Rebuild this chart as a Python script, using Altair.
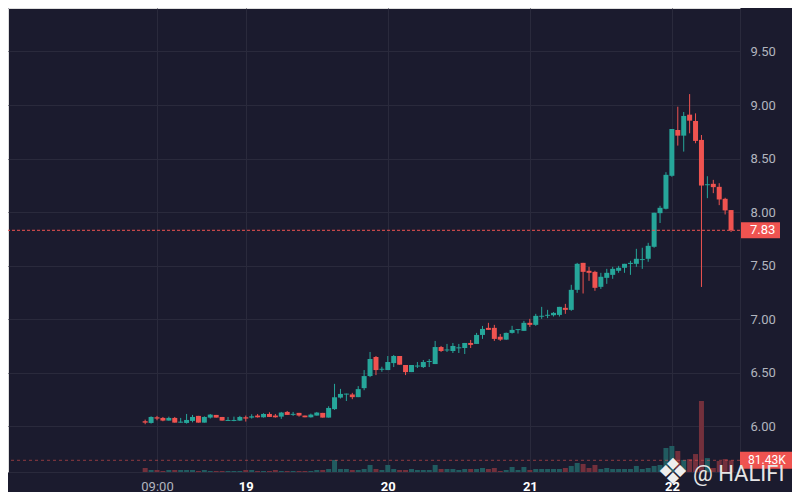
import altair as alt
import pandas as pd

# ---------------- data (hourly candles, hour 0 = 00:00 of day 18) ----------------
hours = list(range(7, 107))
opens = [6.047, 6.031, 6.084, 6.078, 6.053, 6.078, 6.034, 6.031, 6.050, 6.097,
         6.034, 6.081, 6.106, 6.087, 6.050, 6.050, 6.053, 6.084, 6.081, 6.100,
         6.084, 6.115, 6.100, 6.090, 6.134, 6.107, 6.125, 6.100, 6.084, 6.100,
         6.125, 6.081, 6.160, 6.268, 6.296, 6.297, 6.272, 6.356, 6.469, 6.647,
         6.528, 6.525, 6.590, 6.656, 6.572, 6.506, 6.558, 6.553, 6.600, 6.581,
         6.740, 6.708, 6.703, 6.728, 6.731, 6.778, 6.769, 6.853, 6.919, 6.919,
         6.836, 6.809, 6.872, 6.898, 6.891, 6.966, 6.947, 7.023, 7.032, 7.037,
         7.040, 7.106, 7.087, 7.274, 7.526, 7.452, 7.442, 7.302, 7.386, 7.414,
         7.452, 7.480, 7.516, 7.517, 7.552, 7.564, 7.676, 7.990, 8.031, 8.339,
         8.767, 8.714, 8.910, 8.851, 8.674, 8.251, 8.264, 8.236, 8.124, 8.019]
highs = [6.062, 6.093, 6.097, 6.087, 6.090, 6.087, 6.078, 6.115, 6.106, 6.097,
         6.093, 6.115, 6.106, 6.087, 6.087, 6.090, 6.097, 6.100, 6.112, 6.115,
         6.122, 6.131, 6.115, 6.134, 6.143, 6.134, 6.125, 6.100, 6.118, 6.134,
         6.125, 6.187, 6.396, 6.349, 6.305, 6.312, 6.375, 6.525, 6.694, 6.656,
         6.556, 6.656, 6.666, 6.656, 6.572, 6.572, 6.600, 6.619, 6.628, 6.797,
         6.750, 6.769, 6.778, 6.769, 6.778, 6.806, 6.872, 6.937, 6.966, 6.947,
         6.862, 6.875, 6.938, 6.907, 6.984, 7.003, 7.050, 7.115, 7.087, 7.066,
         7.115, 7.143, 7.321, 7.526, 7.526, 7.489, 7.452, 7.433, 7.470, 7.489,
         7.498, 7.517, 7.545, 7.657, 7.667, 7.713, 7.994, 8.059, 8.373, 8.776,
         8.984, 8.935, 9.102, 8.922, 8.720, 8.335, 8.301, 8.270, 8.134, 8.019]
lows = [6.019, 6.025, 6.056, 6.047, 6.053, 6.034, 6.034, 6.025, 6.037, 6.034,
        6.034, 6.072, 6.081, 6.053, 6.050, 6.047, 6.050, 6.044, 6.072, 6.081,
        6.081, 6.087, 6.081, 6.069, 6.106, 6.097, 6.090, 6.084, 6.081, 6.100,
        6.081, 6.081, 6.153, 6.259, 6.236, 6.253, 6.272, 6.337, 6.459, 6.478,
        6.509, 6.525, 6.553, 6.575, 6.478, 6.506, 6.544, 6.544, 6.553, 6.581,
        6.694, 6.694, 6.684, 6.684, 6.675, 6.731, 6.769, 6.816, 6.900, 6.797,
        6.797, 6.806, 6.866, 6.866, 6.891, 6.928, 6.938, 7.003, 7.010, 7.025,
        7.025, 7.050, 7.078, 7.246, 7.240, 7.358, 7.265, 7.283, 7.330, 7.377,
        7.433, 7.433, 7.414, 7.489, 7.470, 7.536, 7.667, 7.898, 8.025, 8.330,
        8.621, 8.565, 8.736, 8.643, 7.301, 8.130, 8.177, 8.065, 7.978, 7.814]
closes = [6.034, 6.087, 6.072, 6.053, 6.078, 6.034, 6.043, 6.059, 6.087, 6.034,
          6.087, 6.109, 6.081, 6.053, 6.059, 6.059, 6.087, 6.072, 6.093, 6.084,
          6.115, 6.087, 6.084, 6.128, 6.106, 6.116, 6.100, 6.084, 6.109, 6.128,
          6.081, 6.171, 6.271, 6.302, 6.305, 6.272, 6.347, 6.469, 6.628, 6.525,
          6.537, 6.600, 6.656, 6.575, 6.506, 6.572, 6.567, 6.600, 6.609, 6.740,
          6.703, 6.717, 6.750, 6.737, 6.778, 6.760, 6.853, 6.909, 6.900, 6.816,
          6.809, 6.872, 6.900, 6.907, 6.966, 6.947, 7.031, 7.032, 7.041, 7.059,
          7.115, 7.087, 7.274, 7.517, 7.442, 7.433, 7.293, 7.396, 7.433, 7.470,
          7.480, 7.517, 7.526, 7.564, 7.561, 7.685, 7.994, 8.040, 8.348, 8.776,
          8.714, 8.898, 8.854, 8.665, 8.248, 8.260, 8.233, 8.118, 8.016, 7.830]
volumes = [28, 14, 14, 7, 14, 14, 14, 14, 14, 7,
           14, 7, 7, 7, 7, 7, 7, 14, 14, 7,
           7, 7, 14, 7, 7, 7, 7, 7, 7, 14,
           14, 21, 84, 21, 21, 14, 14, 21, 49, 21,
           14, 49, 21, 14, 14, 21, 14, 14, 14, 49,
           21, 21, 21, 14, 21, 21, 21, 28, 21, 28,
           7, 14, 35, 14, 35, 14, 21, 21, 21, 21,
           21, 28, 42, 63, 56, 28, 49, 21, 28, 21,
           21, 21, 21, 42, 21, 28, 42, 49, 167, 181,
           146, 84, 90, 125, 494, 97, 28, 77, 90, 81.43]

tick_hours = [9, 24, 48, 72, 96]
tick_labels = ["09:00", "19", "20", "21", "22"]
price_ticks = [6.0, 6.5, 7.0, 7.5, 8.0, 8.5, 9.0, 9.5]

last_close = closes[-1]
last_volume = volumes[-1]
price_label = f"{last_close:.2f}"
volume_label = f"{last_volume:.2f}K"
watermark_text = "@ HALIFI"
logo_text = "❖"

# ---------------- styling ----------------
BG = "#1b1b2e"
GRID = "#2a2a3c"
UP = "#26a69a"
DOWN = "#ef5350"
VOL_UP = "#215b60"
VOL_DOWN = "#73303c"
LABEL = "#b2b5be"
FONT = "Roboto"

df = pd.DataFrame({"hour": hours, "open": opens, "high": highs,
                   "low": lows, "close": closes, "volume": volumes})

x_domain = [-15.333, 106.667]
p_domain = [5.573, 9.906]
v_domain = [0, 3229]

label_expr = ""
for h, lab in zip(tick_hours, tick_labels):
    label_expr += f"datum.value == {h} ? '{lab}' : "
label_expr += "''"

x_axis = alt.Axis(values=tick_hours, labelExpr=label_expr, grid=True, gridColor=GRID,
                  domain=True, domainColor=GRID, ticks=False, title=None,
                  labelFontSize=13, labelPadding=8, labelFont=FONT,
                  labelColor={"condition": {"test": "datum.value >= 24", "value": "#ffffff"},
                              "value": LABEL},
                  labelFontWeight={"condition": {"test": "datum.value >= 24", "value": "bold"},
                                   "value": "normal"})
x_enc = alt.X("hour:Q", scale=alt.Scale(domain=x_domain, nice=False, zero=False), axis=x_axis)

p_scale = alt.Scale(domain=p_domain, nice=False, zero=False)
p_axis = alt.Axis(orient="right", values=price_ticks, format=".2f", grid=True, gridColor=GRID,
                  domain=True, domainColor=GRID, ticks=False, title=None,
                  labelFontSize=13, labelPadding=10, labelColor=LABEL, labelFont=FONT)
v_scale = alt.Scale(domain=v_domain, nice=False, zero=True)

dir_color = alt.condition("datum.close >= datum.open", alt.value(UP), alt.value(DOWN))
vol_color = alt.condition("datum.close >= datum.open", alt.value(VOL_UP), alt.value(VOL_DOWN))

one = pd.DataFrame({"k": [0]})

# volume layers
vol_bars = alt.Chart(df).mark_bar(size=5).encode(
    x=x_enc,
    y=alt.Y("volume:Q", scale=v_scale, axis=None),
    color=vol_color,
)
vol_line = alt.Chart(one).mark_rule(color=DOWN, opacity=0.55, strokeDash=[3, 3], strokeWidth=1).encode(
    y=alt.Y(datum=last_volume, scale=v_scale, axis=None)
)
vol_box = alt.Chart(one).mark_rect(color=DOWN).encode(
    x=alt.value(732), x2=alt.value(787),
    y=alt.Y(datum=last_volume + 59, scale=v_scale, axis=None),
    y2=alt.Y2(datum=last_volume - 59),
)
vol_text = alt.Chart(one).mark_text(align="left", baseline="middle", color="#ffffff",
                                    fontSize=12, font=FONT).encode(
    x=alt.value(740),
    y=alt.Y(datum=last_volume, scale=v_scale, axis=None),
    text=alt.value(volume_label),
)
volume_layer = alt.layer(vol_bars, vol_line, vol_box, vol_text)

# price layers
wicks = alt.Chart(df).mark_rule(strokeWidth=1).encode(
    x=x_enc,
    y=alt.Y("low:Q", scale=p_scale, axis=p_axis),
    y2="high:Q",
    color=dir_color,
)
bodies = alt.Chart(df).mark_bar(size=5).encode(
    x=x_enc,
    y=alt.Y("open:Q", scale=p_scale, axis=p_axis),
    y2="close:Q",
    color=dir_color,
)
price_line = alt.Chart(one).mark_rule(color=DOWN, strokeDash=[3, 2], strokeWidth=1).encode(
    y=alt.Y(datum=last_close, scale=p_scale, axis=p_axis)
)
price_box = alt.Chart(one).mark_rect(color=DOWN).encode(
    x=alt.value(733), x2=alt.value(772),
    y=alt.Y(datum=last_close + 0.075, scale=p_scale, axis=p_axis),
    y2=alt.Y2(datum=last_close - 0.075),
)
price_text = alt.Chart(one).mark_text(align="left", baseline="middle", color="#ffffff",
                                      fontSize=13, font=FONT).encode(
    x=alt.value(742),
    y=alt.Y(datum=last_close, scale=p_scale, axis=p_axis),
    text=alt.value(price_label),
)
logo = alt.Chart(one).mark_text(align="center", baseline="middle", color="#eeeeee",
                                fontSize=36, font="DejaVu Sans").encode(
    x=alt.value(665), y=alt.value(465), text=alt.value(logo_text)
)
watermark = alt.Chart(one).mark_text(align="left", baseline="middle", color="#e6e6e6",
                                     fontSize=22, font=FONT).encode(
    x=alt.value(685), y=alt.value(466), text=alt.value(watermark_text)
)
price_layer = alt.layer(wicks, bodies, price_line, price_box, price_text)

chart = alt.layer(volume_layer, price_layer, logo, watermark).resolve_scale(
    y="independent"
).properties(
    width=732, height=464,
    padding={"left": 0, "top": 0, "right": 52, "bottom": 20},
    autosize=alt.AutoSizeParams(type="none"),
    background=BG,
).configure_view(stroke=None).configure(font=FONT)

chart.save("out.html", embed_options={"renderer": "svg", "actions": False})
